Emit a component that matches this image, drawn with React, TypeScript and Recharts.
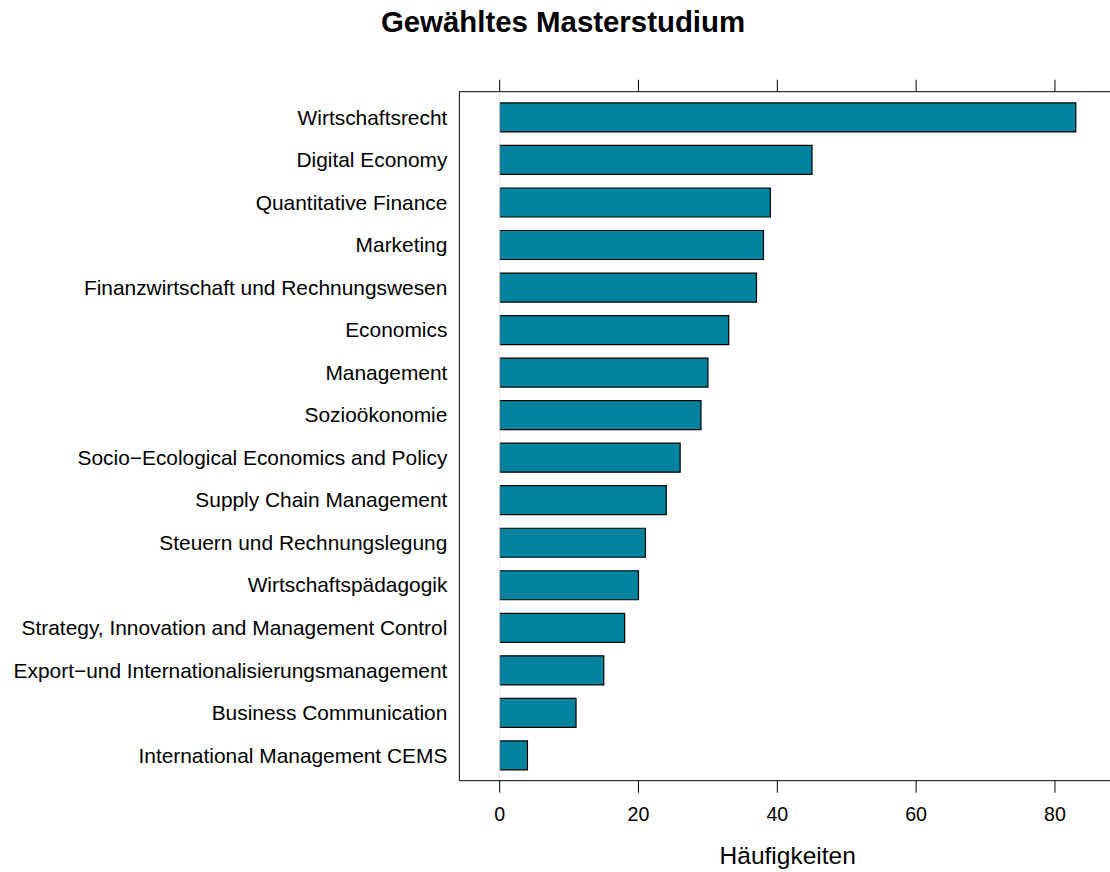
import React from "react";
import { BarChart, Bar, XAxis, YAxis, ReferenceLine, Label } from "recharts";

const categories = [
  "Wirtschaftsrecht",
  "Digital Economy",
  "Quantitative Finance",
  "Marketing",
  "Finanzwirtschaft und Rechnungswesen",
  "Economics",
  "Management",
  "Sozioökonomie",
  "Socio\u2212Ecological Economics and Policy",
  "Supply Chain Management",
  "Steuern und Rechnungslegung",
  "Wirtschaftspädagogik",
  "Strategy, Innovation and Management Control",
  "Export\u2212und Internationalisierungsmanagement",
  "Business Communication",
  "International Management CEMS",
];

const counts = [83, 45, 39, 38, 37, 33, 30, 29, 26, 24, 21, 20, 18, 15, 11, 4];

const xTicks = [0, 20, 40, 60, 80];
const xDomain: [number, number] = [-5.81, 88.81];

const title = "Gewähltes Masterstudium";
const xLabel = "Häufigkeiten";

const data = categories.map((name, i) => ({ name, value: counts[i] }));

const FONT = "'Liberation Sans', Arial, Helvetica, sans-serif";

export default function App() {
  return (
    <div
      style={{
        position: "absolute",
        left: 0,
        top: 0,
        width: 1110,
        height: 872,
        overflow: "hidden",
        background: "#ffffff",
        fontFamily: FONT,
      }}
    >
      <div
        style={{
          position: "absolute",
          left: 0,
          top: 6.8,
          width: 1126,
          textAlign: "center",
          fontWeight: "bold",
          fontSize: 29.4,
          lineHeight: 1,
          color: "#000",
          fontFamily: FONT,
        }}
      >
        {title}
      </div>
      <BarChart
        width={1130}
        height={872}
        data={data}
        layout="vertical"
        margin={{ top: 0, right: 13.9, bottom: 0, left: 0 }}
        barCategoryGap="16.4%"
        style={{ position: "absolute", left: 0, top: 0 }}
      >
        <XAxis
          xAxisId="bottom"
          type="number"
          dataKey="value"
          orientation="bottom"
          domain={xDomain}
          ticks={xTicks}
          allowDataOverflow
          height={91.3}
          tickSize={12}
          tickMargin={14}
          axisLine={{ stroke: "#000", strokeWidth: 1 }}
          tickLine={{ stroke: "#000", strokeWidth: 1 }}
          tick={{ fill: "#000", fontSize: 19.6, fontFamily: FONT }}
        >
          <Label
            value={xLabel}
            position="insideBottom"
            offset={8.5}
            style={{ fill: "#000", fontSize: 24.5, fontFamily: FONT }}
          />
        </XAxis>
        <XAxis
          xAxisId="top"
          type="number"
          dataKey="value"
          orientation="top"
          domain={xDomain}
          ticks={xTicks}
          allowDataOverflow
          height={91.7}
          tickSize={12}
          axisLine={{ stroke: "#000", strokeWidth: 1 }}
          tickLine={{ stroke: "#000", strokeWidth: 1 }}
          tick={() => <g />}
        />
        <YAxis
          type="category"
          dataKey="name"
          width={459.35}
          padding={{ top: 4.25, bottom: 4.25 }}
          tickSize={0}
          tickMargin={12}
          tickLine={false}
          interval={0}
          axisLine={{ stroke: "#000", strokeWidth: 1 }}
          tick={{ fill: "#000", fontSize: 20.9, fontFamily: FONT }}
        />
        <ReferenceLine xAxisId="bottom" x={0} stroke="#e6e6e6" strokeWidth={1} />
        <Bar
          xAxisId="bottom"
          dataKey="value"
          fill="#00839F"
          stroke="#000"
          strokeWidth={1.2}
          isAnimationActive={false}
        />
      </BarChart>
    </div>
  );
}
